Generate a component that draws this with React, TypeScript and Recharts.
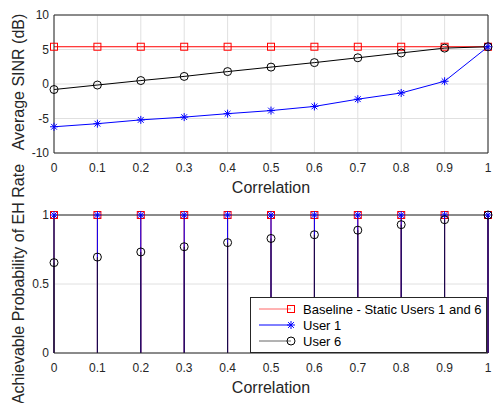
import React from 'react';
import {
  ComposedChart,
  Line,
  XAxis,
  YAxis,
  CartesianGrid,
  ReferenceLine,
  Legend,
} from 'recharts';

const corr = [0, 0.1, 0.2, 0.3, 0.4, 0.5, 0.6, 0.7, 0.8, 0.9, 1];
const xTicks = [0, 0.1, 0.2, 0.3, 0.4, 0.5, 0.6, 0.7, 0.8, 0.9, 1];

// top: average SINR (dB)
const baselineSinr = [5.4, 5.4, 5.4, 5.4, 5.4, 5.4, 5.4, 5.4, 5.4, 5.4, 5.4];
const user1Sinr = [-6.2, -5.75, -5.2, -4.8, -4.3, -3.85, -3.25, -2.2, -1.3, 0.4, 5.4];
const user6Sinr = [-0.8, -0.15, 0.5, 1.1, 1.8, 2.45, 3.1, 3.8, 4.5, 5.2, 5.4];
const sinrTicks = [-10, -5, 0, 5, 10];

// bottom: achievable probability of EH rate
const baselineEh = [1, 1, 1, 1, 1, 1, 1, 1, 1, 1, 1];
const user1Eh = [1, 1, 1, 1, 1, 1, 1, 1, 1, 1, 1];
const user6Eh = [0.655, 0.695, 0.732, 0.77, 0.8, 0.83, 0.857, 0.89, 0.93, 0.966, 1];
const ehTicks = [0, 0.5, 1];

const seriesNames = ['Baseline - Static Users 1 and 6', 'User 1', 'User 6'];
const seriesColors = ['#ff0000', '#0000ff', '#000000'];

const sinrData = corr.map((c, i) => ({
  corr: c,
  baseline: baselineSinr[i],
  user1: user1Sinr[i],
  user6: user6Sinr[i],
}));

const ehData = corr.map((c, i) => ({
  corr: c,
  baseline: baselineEh[i],
  user1: user1Eh[i],
  user6: user6Eh[i],
}));

const FONT = '"Liberation Sans", Arial, Helvetica, sans-serif';
const AX = '#262626';
const GRID = '#e0e0e0';

const drawMarker = (kind: string, cx: number, cy: number, color: string, key?: any) => {
  if (kind === 'square') {
    return <rect key={key} x={cx - 3.5} y={cy - 3.5} width={7} height={7} fill="none" stroke={color} />;
  }
  if (kind === 'star') {
    const r = 4;
    const d = 2.9;
    return (
      <g key={key} stroke={color} strokeWidth={1}>
        <line x1={cx - r} y1={cy} x2={cx + r} y2={cy} />
        <line x1={cx} y1={cy - r} x2={cx} y2={cy + r} />
        <line x1={cx - d} y1={cy - d} x2={cx + d} y2={cy + d} />
        <line x1={cx - d} y1={cy + d} x2={cx + d} y2={cy - d} />
      </g>
    );
  }
  return <circle key={key} cx={cx} cy={cy} r={4} fill="none" stroke={color} />;
};

const markerKinds = ['square', 'star', 'circle'];

const dotFor = (idx: number) => (props: any) => {
  const { cx, cy, index } = props;
  if (cx == null || cy == null) return <g key={index} />;
  return drawMarker(markerKinds[idx], cx, cy, seriesColors[idx], index);
};

const renderLegend = () => (
  <div
    style={{
      border: `1px solid ${AX}`,
      background: '#fff',
      fontFamily: FONT,
      fontSize: 13,
      color: '#000',
      padding: '3px 0',
      boxSizing: 'border-box',
    }}
  >
    {seriesNames.map((name, i) => (
      <div key={name} style={{ display: 'flex', alignItems: 'center', height: 16 }}>
        <svg width={44} height={14} style={{ marginLeft: 6 }}>
          <line x1={2} y1={7} x2={34} y2={7} stroke={seriesColors[i]} strokeOpacity={i === 1 ? 1 : 0.6} />
          {drawMarker(markerKinds[i], 34, 7, seriesColors[i])}
        </svg>
        <span style={{ marginLeft: 2 }}>{name}</span>
      </div>
    ))}
  </div>
);

const tickStyle = { fontSize: 12, fill: AX, fontFamily: FONT };
const labelStyle = { fontSize: 16, fill: AX, fontFamily: FONT };

export default function App() {
  return (
    <div style={{ position: 'absolute', left: 0, top: 0, width: 493, height: 403, background: '#fff', fontFamily: FONT }}>
      <div style={{ position: 'absolute', left: 0, top: 0 }}>
        <ComposedChart width={493} height={200} data={sinrData} margin={{ top: 15, right: 5, left: 0, bottom: 0 }}>
          <CartesianGrid stroke={GRID} />
          <XAxis
            dataKey="corr"
            type="number"
            domain={[0, 1]}
            ticks={xTicks}
            height={47}
            tickLine={false}
            tickSize={6}
            tickMargin={4}
            tick={tickStyle}
            stroke={AX}
            label={{ value: 'Correlation', position: 'insideBottom', offset: 7, style: labelStyle }}
          />
          <YAxis
            type="number"
            domain={[-10, 10]}
            ticks={sinrTicks}
            width={54}
            tickLine={false}
            tickSize={3}
            tickMargin={2}
            tick={tickStyle}
            stroke={AX}
            label={{ value: 'Average SINR (dB)', angle: -90, position: 'center', dx: -9, dy: -2, style: labelStyle }}
          />
          <ReferenceLine y={10} stroke={AX} ifOverflow="visible" />
          <ReferenceLine x={1} stroke={AX} ifOverflow="visible" />
          <Line dataKey="baseline" name={seriesNames[0]} stroke={seriesColors[0]} dot={dotFor(0)} isAnimationActive={false} />
          <Line dataKey="user6" name={seriesNames[2]} stroke={seriesColors[2]} dot={dotFor(2)} isAnimationActive={false} />
          <Line dataKey="user1" name={seriesNames[1]} stroke={seriesColors[1]} dot={dotFor(1)} isAnimationActive={false} />
        </ComposedChart>
      </div>

      <div style={{ position: 'absolute', left: 0, top: 150 }}>
        <ComposedChart width={493} height={253} data={ehData} margin={{ top: 65, right: 5, left: 0, bottom: 0 }}>
          <CartesianGrid stroke={GRID} />
          <XAxis
            dataKey="corr"
            type="number"
            domain={[0, 1]}
            ticks={xTicks}
            height={50}
            tickLine={false}
            tickSize={6}
            tickMargin={4}
            tick={tickStyle}
            stroke={AX}
            label={{ value: 'Correlation', position: 'insideBottom', offset: 10, style: labelStyle }}
          />
          <YAxis
            type="number"
            domain={[0, 1]}
            ticks={ehTicks}
            width={54}
            tickLine={false}
            tickSize={3}
            tickMargin={2}
            tick={tickStyle}
            stroke={AX}
            label={{ value: 'Achievable Probability of EH Rate', angle: -90, position: 'center', dx: -9, style: labelStyle }}
          />
          <ReferenceLine x={1} stroke={AX} ifOverflow="visible" />
          {ehData.map((d) => (
            <ReferenceLine
              key={`b${d.corr}`}
              segment={[{ x: d.corr, y: 0 }, { x: d.corr, y: d.baseline }]}
              stroke={seriesColors[0]}
              ifOverflow="visible"
            />
          ))}
          {ehData.map((d) => (
            <ReferenceLine
              key={`u1${d.corr}`}
              segment={[{ x: d.corr, y: 0 }, { x: d.corr, y: d.user1 }]}
              stroke={seriesColors[1]}
              ifOverflow="visible"
            />
          ))}
          {ehData.map((d) => (
            <ReferenceLine
              key={`u6${d.corr}`}
              segment={[{ x: d.corr, y: 0 }, { x: d.corr, y: d.user6 }]}
              stroke="#1a0a3a"
              ifOverflow="visible"
            />
          ))}
          <ReferenceLine y={1} stroke={AX} ifOverflow="visible" />
          <Line dataKey="baseline" name={seriesNames[0]} stroke="none" dot={dotFor(0)} isAnimationActive={false} />
          <Line dataKey="user1" name={seriesNames[1]} stroke="none" dot={dotFor(1)} isAnimationActive={false} />
          <Line dataKey="user6" name={seriesNames[2]} stroke="none" dot={dotFor(2)} isAnimationActive={false} />
          <Legend
            layout="vertical"
            align="center"
            verticalAlign="middle"
            content={renderLegend}
            wrapperStyle={{ left: 250, top: 147, width: 237, height: 'auto' }}
          />
        </ComposedChart>
      </div>
    </div>
  );
}
